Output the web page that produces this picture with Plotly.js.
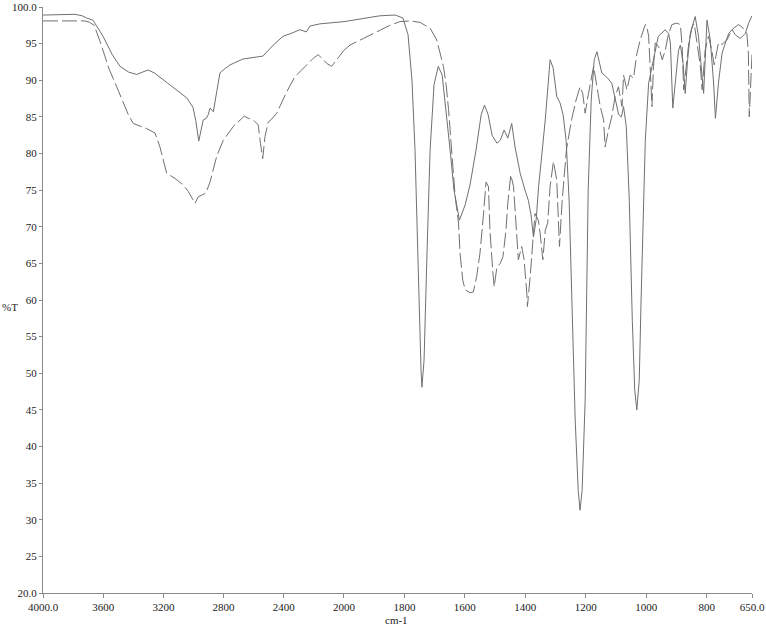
<!DOCTYPE html>
<html>
<head>
<meta charset="utf-8">
<script src="https://cdn.plot.ly/plotly-3.0.1.min.js"></script>
<style>html,body{margin:0;padding:0;background:#fff;}#chart{width:766px;height:630px;}</style>
</head>
<body>
<div id="chart"></div>
<script>
// Solid spectrum: wavenumber (cm-1) and %T
const solidWn = [4000,3887,3787,3740,3710,3668,3601,3540,3488,3430,3377,3340,3302,3260,3223,3150,3100,3045,3003,2985,2965,2950,2935,2915,2902,2890,2868,2845,2824,2790,2757,2671,2571,2538,2470,2405,2339,2292,2250,2226,2160,2060,2000,1947,1881,1831,1805,1788,1775,1765,1755,1745,1742,1735,1725,1715,1702,1688,1675,1662,1649,1636,1618,1599,1583,1563,1546,1535,1523,1510,1494,1483,1470,1458,1445,1434,1417,1401,1390,1381,1373,1364,1356,1345,1334,1318,1308,1296,1285,1275,1265,1255,1245,1235,1225,1219,1212,1202,1192,1182,1172,1163,1147,1130,1114,1103,1091,1082,1075,1066,1056,1046,1038,1031,1023,1017,1009,1003,992,977,960,937,926,920,912,904,893,887,878,871,863,854,838,827,816,810,799,788,777,771,761,749,738,727,716,705,689,672,661,650];
const solidT  = [98.9,98.9,99.0,98.8,98.5,98.2,96.0,93.5,91.9,91.1,90.8,91.1,91.4,91.0,90.4,89.3,88.5,87.6,86.3,84.5,81.7,83.0,84.6,84.8,85.3,86.2,85.7,88.5,91.0,91.6,92.1,92.9,93.2,93.3,94.8,96.0,96.5,96.9,96.6,97.4,97.7,97.9,98.0,98.4,98.8,98.9,98.5,96.2,90.0,80.5,64.1,50.4,48.1,51.8,66.8,80.5,89.4,91.9,90.7,86.0,80.5,75.0,70.9,73.0,75.7,80.5,85.3,86.6,85.3,82.5,81.4,81.8,83.2,82.1,84.1,80.9,77.3,75.0,73.6,71.6,68.6,71.0,75.5,80.0,84.6,92.8,91.7,87.8,86.9,85.3,81.8,73.6,60.0,43.6,34.0,31.3,34.0,46.3,75.0,87.3,92.8,93.9,91.0,90.4,89.6,87.6,85.3,85.0,86.4,83.7,73.6,57.2,47.7,45.0,49.1,60.0,73.6,81.8,89.6,92.8,96.0,96.9,96.4,95.1,86.2,89.6,94.1,94.8,92.3,88.2,92.8,96.4,98.7,96.0,91.0,88.2,98.2,95.5,89.6,84.8,89.6,93.7,95.1,96.4,96.9,96.2,95.7,96.4,97.8,98.8];

// Dashed spectrum: wavenumber (cm-1) and %T
const dashWn = [4000,3900,3760,3720,3690,3660,3621,3560,3510,3433,3400,3311,3256,3223,3178,3123,3068,3034,2990,2968,2946,2918,2890,2846,2802,2735,2662,2635,2603,2570,2555,2540,2525,2503,2480,2447,2381,2326,2281,2204,2171,2115,2082,2050,2000,1980,1936,1901,1881,1848,1815,1781,1748,1715,1693,1671,1662,1654,1643,1632,1621,1616,1607,1599,1583,1572,1561,1550,1539,1530,1522,1517,1508,1503,1494,1483,1474,1464,1458,1448,1439,1430,1423,1412,1404,1395,1393,1384,1375,1368,1357,1351,1342,1334,1326,1318,1307,1296,1287,1278,1264,1247,1232,1219,1210,1202,1191,1180,1174,1163,1152,1141,1136,1125,1114,1103,1092,1080,1075,1064,1053,1042,1031,1020,1003,998,992,987,981,976,970,959,947,937,927,915,899,887,881,876,867,859,848,841,832,821,815,805,794,783,775,761,749,733,722,711,695,684,667,662,659,654,650];
const dashT  = [98.1,98.1,98.0,98.1,97.9,97.5,95.3,91.5,89.1,85.3,84.1,83.4,82.8,80.9,77.3,76.6,75.7,74.8,73.2,74.1,74.3,74.6,76.1,79.6,81.8,83.7,85.1,84.8,84.6,83.9,81.4,79.3,82.3,84.3,84.7,85.5,88.4,90.5,91.4,93.0,93.5,92.3,91.9,92.8,94.1,94.8,95.7,96.4,96.9,97.5,98.0,98.1,97.9,97.1,95.5,91.9,89.4,86.0,80.0,74.1,70.5,66.4,62.7,61.4,61.0,61.1,63.2,66.4,71.4,76.1,75.5,69.5,64.1,61.8,64.5,65.0,65.9,69.5,73.2,77.1,75.5,70.0,65.5,67.3,65.5,60.9,59.1,63.2,68.6,71.8,70.9,69.1,65.5,69.5,70.5,75.5,78.9,76.4,67.3,73.6,80.5,84.6,87.3,89.1,88.2,85.5,88.2,91.0,91.9,89.1,86.4,84.6,80.9,83.2,85.0,87.8,89.1,86.4,90.7,88.7,90.7,90.3,93.6,95.5,97.6,97.4,96.0,91.9,86.4,91.9,95.1,94.6,92.8,94.1,96.2,97.6,97.8,97.6,94.6,88.7,91.9,95.1,97.3,97.7,95.1,91.9,88.7,94.1,96.0,94.1,92.1,95.1,94.9,95.5,96.4,97.1,97.6,97.3,96.4,93.7,85.0,88.7,93.5];

const yTickVals = [20,25,30,35,40,45,50,55,60,65,70,75,80,85,90,95,100];
const yTickText = ['20.0','25','30','35','40','45','50','55','60','65','70','75','80','85','90','95','100.0'];
const xHighVals = [4000,3600,3200,2800,2400,2000];
const xHighText = ['4000.0','3600','3200','2800','2400','2000'];
const xLowVals = [1800,1600,1400,1200,1000,800,650];
const xLowText = ['1800','1600','1400','1200','1000','800','650.0'];

function part(wn, t, hi) {
  const xs = [], ys = [];
  for (let i = 0; i < wn.length; i++) {
    if (hi ? wn[i] >= 2000 : wn[i] <= 2000) { xs.push(wn[i]); ys.push(t[i]); }
  }
  return {x: xs, y: ys};
}

const lineColor = '#707070';
const solidLine = {color: lineColor, width: 1};
const dashLine = {color: lineColor, width: 1, dash: '15px,4px'};

const sH = part(solidWn, solidT, true), sL = part(solidWn, solidT, false);
const dH = part(dashWn, dashT, true), dL = part(dashWn, dashT, false);

const traces = [
  {x: sH.x, y: sH.y, xaxis: 'x', yaxis: 'y', mode: 'lines', line: solidLine, hoverinfo: 'skip'},
  {x: sL.x, y: sL.y, xaxis: 'x2', yaxis: 'y', mode: 'lines', line: solidLine, hoverinfo: 'skip'},
  {x: dH.x, y: dH.y, xaxis: 'x', yaxis: 'y', mode: 'lines', line: dashLine, hoverinfo: 'skip'},
  {x: dL.x, y: dL.y, xaxis: 'x2', yaxis: 'y', mode: 'lines', line: dashLine, hoverinfo: 'skip'}
];

const tickFont = {family: "'Liberation Serif', 'Times New Roman', Times, serif", size: 11, color: '#222'};
const axisCommon = {
  showgrid: false, zeroline: false, showline: true, linecolor: '#8a8a8a', linewidth: 1,
  ticks: 'outside', tickcolor: '#8a8a8a', tickwidth: 1, tickfont: tickFont, tickmode: 'array', fixedrange: true
};
const split = 0.4245;

const layout = {
  width: 766, height: 630,
  margin: {l: 43, r: 14, t: 7, b: 37},
  paper_bgcolor: '#fff', plot_bgcolor: '#fff',
  showlegend: false,
  font: tickFont,
  xaxis: Object.assign({}, axisCommon, {domain: [0, split], range: [4000, 2000], tickvals: xHighVals, ticktext: xHighText, ticklen: 4, anchor: 'y'}),
  xaxis2: Object.assign({}, axisCommon, {domain: [split, 1], range: [2000, 650], tickvals: xLowVals, ticktext: xLowText, ticklen: 4, anchor: 'y'}),
  yaxis: Object.assign({}, axisCommon, {range: [20, 100], tickvals: yTickVals, ticktext: yTickText, ticklen: 3}),
  annotations: [
    {text: '%T', xref: 'paper', yref: 'paper', x: -0.047, y: 0.488, showarrow: false, font: tickFont, xanchor: 'center', yanchor: 'middle'},
    {text: 'cm-1', xref: 'paper', yref: 'paper', x: 0.498, y: -0.046, showarrow: false, font: tickFont, xanchor: 'center', yanchor: 'middle'}
  ]
};

Plotly.newPlot('chart', traces, layout, {displayModeBar: false, staticPlot: true});
</script>
</body>
</html>
